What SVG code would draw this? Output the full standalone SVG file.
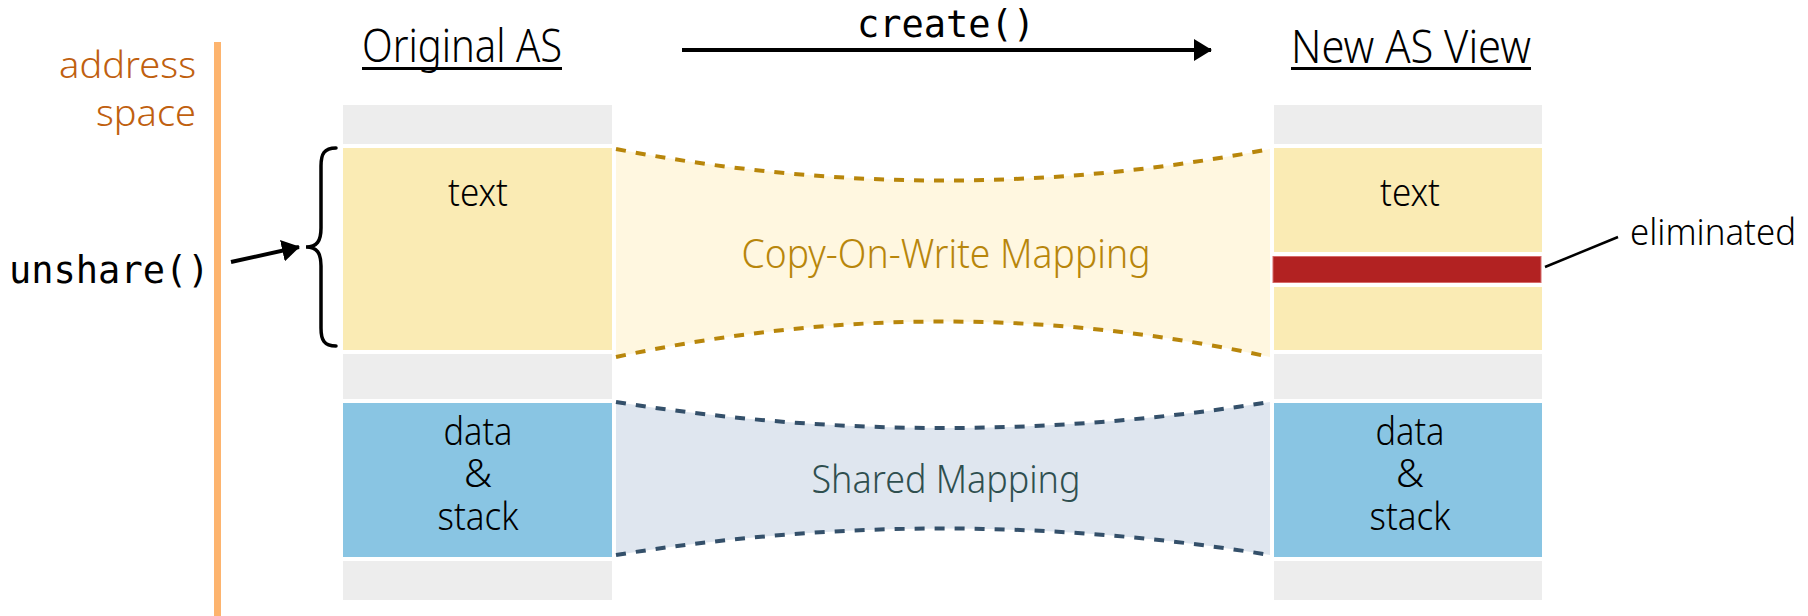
<svg xmlns="http://www.w3.org/2000/svg" width="1808" height="616" viewBox="0 0 1808 616">
  <style>
    .lbl { font-family: "Noto Sans", "Open Sans", "Liberation Sans", sans-serif; font-weight: 300; fill: #000; }
    .mono { font-family: "DejaVu Sans Mono", "Liberation Mono", monospace; font-size: 37px; fill: #000; }
    .head { font-size: 45px; }
    .seg { font-size: 39px; text-anchor: middle; }
    .gap { fill: #ededed; }
    .txt { fill: #faebb4; }
    .dat { fill: #89c5e3; }
    .cow { fill: #fff7e0; }
    .shr { fill: #dfe6ef; }
    .cowEdge { fill: none; stroke: #b8860b; stroke-width: 4; stroke-dasharray: 10 10; }
    .shrEdge { fill: none; stroke: #34506a; stroke-width: 4; stroke-dasharray: 10 10; }
    .conn { fill: none; stroke: #000; stroke-width: 4; }
    .rule { stroke: #000; stroke-width: 3; }
  </style>
  <defs>
    <marker id="arrowhead" markerUnits="userSpaceOnUse" viewBox="0 0 18 22" markerWidth="18" markerHeight="22" refX="17" refY="11" orient="auto">
      <path d="M0,0 L18,11 L0,22 z" fill="#000"/>
    </marker>
  </defs>

  <!-- address-space axis -->
  <g id="address-space">
    <rect x="214" y="42" width="7" height="574" fill="#fdb46e"/>
    <text class="lbl" x="196" y="78" font-size="37" text-anchor="end" style="fill:#c0600f" textLength="137" lengthAdjust="spacingAndGlyphs">address</text>
    <text class="lbl" x="196" y="126" font-size="37" text-anchor="end" style="fill:#c0600f" textLength="100" lengthAdjust="spacingAndGlyphs">space</text>
  </g>

  <!-- copy-on-write mapping band -->
  <g id="cow-mapping">
    <path class="cow" d="M616,149 Q944,212 1270,149 L1270,357 Q944,286 616,357 Z"/>
    <path class="cowEdge" d="M616,149 Q944,212 1270,149"/>
    <path class="cowEdge" d="M616,357 Q944,286 1270,357"/>
    <text class="lbl" x="946" y="268" font-size="40" text-anchor="middle" style="fill:#b8860b" textLength="409" lengthAdjust="spacingAndGlyphs">Copy-On-Write Mapping</text>
  </g>

  <!-- shared mapping band -->
  <g id="shared-mapping">
    <path class="shr" d="M616,402 Q944,454 1270,402 L1270,555 Q944,502 616,555 Z"/>
    <path class="shrEdge" d="M616,402 Q944,454 1270,402"/>
    <path class="shrEdge" d="M616,555 Q944,502 1270,555"/>
    <text class="lbl" x="946" y="493" font-size="39" text-anchor="middle" style="fill:#2f4f4f" textLength="269" lengthAdjust="spacingAndGlyphs">Shared Mapping</text>
  </g>

  <!-- original address space -->
  <g id="original-as">
    <text class="lbl head" x="362" y="62" textLength="200" lengthAdjust="spacingAndGlyphs">Original AS</text>
    <line class="rule" x1="362" y1="68.5" x2="562" y2="68.5"/>
    <rect class="gap" x="343" y="105" width="269" height="39"/>
    <rect class="txt" x="343" y="148" width="269" height="202"/>
    <rect class="gap" x="343" y="354" width="269" height="45"/>
    <rect class="dat" x="343" y="403" width="269" height="154"/>
    <rect class="gap" x="343" y="561" width="269" height="39"/>
    <text class="lbl seg" x="478" y="206" textLength="60" lengthAdjust="spacingAndGlyphs">text</text>
    <text class="lbl seg"><tspan x="478" y="445" textLength="69" lengthAdjust="spacingAndGlyphs">data</tspan><tspan x="478" y="487">&amp;</tspan><tspan x="478" y="530" textLength="81" lengthAdjust="spacingAndGlyphs">stack</tspan></text>
  </g>

  <!-- new address space view -->
  <g id="new-as-view">
    <text class="lbl head" x="1291" y="63" textLength="240" lengthAdjust="spacingAndGlyphs">New AS View</text>
    <line class="rule" x1="1291" y1="68.5" x2="1531" y2="68.5"/>
    <rect class="gap" x="1274" y="105" width="268" height="39"/>
    <rect class="txt" x="1274" y="148" width="268" height="104"/>
    <rect x="1273" y="256.5" width="268" height="26" fill="#b22222" stroke="#d66a6a" stroke-width="1"/>
    <rect class="txt" x="1274" y="287" width="268" height="63"/>
    <rect class="gap" x="1274" y="354" width="268" height="45"/>
    <rect class="dat" x="1274" y="403" width="268" height="154"/>
    <rect class="gap" x="1274" y="561" width="268" height="39"/>
    <text class="lbl seg" x="1410" y="206" textLength="60" lengthAdjust="spacingAndGlyphs">text</text>
    <text class="lbl seg"><tspan x="1410" y="445" textLength="69" lengthAdjust="spacingAndGlyphs">data</tspan><tspan x="1410" y="487">&amp;</tspan><tspan x="1410" y="530" textLength="81" lengthAdjust="spacingAndGlyphs">stack</tspan></text>
  </g>

  <!-- call labels -->
  <g id="create-call">
    <text class="mono" x="946" y="37" text-anchor="middle">create()</text>
  </g>
  <g id="unshare-call">
    <text class="mono" x="9" y="283" font-size="38">unshare()</text>
  </g>
  <g id="eliminated-note">
    <text class="lbl" x="1630" y="245" font-size="36" textLength="166" lengthAdjust="spacingAndGlyphs">eliminated</text>
  </g>

  <!-- connectors -->
  <g id="connectors">
    <line class="conn" x1="682" y1="50" x2="1211" y2="50" marker-end="url(#arrowhead)"/>
    <line class="conn" x1="231" y1="262" x2="299" y2="247" marker-end="url(#arrowhead)"/>
    <path d="M336,148 C324,148 321,154 321,166 L321,228 C321,241 317,247 306,247 C317,247 321,253 321,266 L321,328 C321,340 324,346 336,346" fill="none" stroke="#000" stroke-width="3.5" stroke-linecap="round"/>
    <line x1="1545" y1="267" x2="1618" y2="237" stroke="#000" stroke-width="2.5"/>
  </g>
</svg>
